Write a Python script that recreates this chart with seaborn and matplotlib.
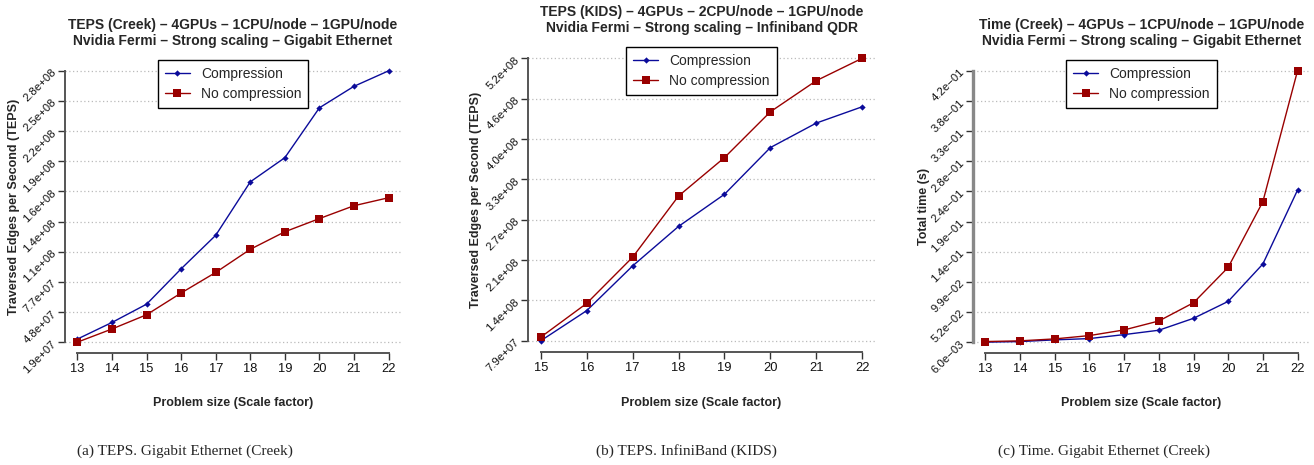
import numpy as np
import pandas as pd
import matplotlib
matplotlib.use("Agg")
import matplotlib.pyplot as plt
from matplotlib.ticker import FuncFormatter
import seaborn as sns

# ---------------- data ----------------
scale_a = [13, 14, 15, 16, 17, 18, 19, 20, 21, 22]
teps_creek_comp = [2.2e7, 3.8e7, 5.56e7, 8.97e7, 1.22e8, 1.735e8, 1.968e8, 2.449e8, 2.656e8, 2.805e8]
teps_creek_nocomp = [1.9e7, 3.17e7, 4.54e7, 6.64e7, 8.62e7, 1.085e8, 1.254e8, 1.381e8, 1.505e8, 1.582e8]

scale_b = [15, 16, 17, 18, 19, 20, 21, 22]
teps_kids_comp = [7.9e7, 1.264e8, 1.969e8, 2.591e8, 3.097e8, 3.833e8, 4.219e8, 4.476e8]
teps_kids_nocomp = [8.47e7, 1.379e8, 2.106e8, 3.07e8, 3.675e8, 4.397e8, 4.887e8, 5.24e8]

scale_c = [13, 14, 15, 16, 17, 18, 19, 20, 21, 22]
time_creek_comp = [0.006, 0.0069, 0.0095, 0.0115, 0.0176, 0.0243, 0.0426, 0.0686, 0.126, 0.2395]
time_creek_nocomp = [0.0069, 0.008, 0.011, 0.0161, 0.0248, 0.0385, 0.0665, 0.1209, 0.2217, 0.4227]

series_names = ["Compression", "No compression"]

titles = [
    "TEPS (Creek) \u2013 4GPUs \u2013 1CPU/node \u2013 1GPU/node\nNvidia Fermi \u2013 Strong scaling \u2013 Gigabit Ethernet",
    "TEPS (KIDS) \u2013 4GPUs \u2013 2CPU/node \u2013 1GPU/node\nNvidia Fermi \u2013 Strong scaling \u2013 Infiniband QDR",
    "Time (Creek) \u2013 4GPUs \u2013 1CPU/node \u2013 1GPU/node\nNvidia Fermi \u2013 Strong scaling \u2013 Gigabit Ethernet",
]
ylabels = ["Traversed Edges per Second (TEPS)", "Traversed Edges per Second (TEPS)", "Total time (s)"]
xlabel = "Problem size (Scale factor)"
captions = [
    "(a) TEPS. Gigabit Ethernet (Creek)",
    "(b) TEPS. InfiniBand (KIDS)",
    "(c) Time. Gigabit Ethernet (Creek)",
]

panels = [
    (scale_a, teps_creek_comp, teps_creek_nocomp),
    (scale_b, teps_kids_comp, teps_kids_nocomp),
    (scale_c, time_creek_comp, time_creek_nocomp),
]

# ---------------- style ----------------
sns.set_theme(style="white")
plt.rcParams["font.family"] = ["Liberation Sans", "DejaVu Sans"]
plt.rcParams["axes.unicode_minus"] = True

W, H = 1314, 465
fig = plt.figure(figsize=(W / 100, H / 100), dpi=100)
fig.patch.set_facecolor("white")

# axes boxes in pixels: left, right, top, bottom
boxes = [(65, 401, 60, 353), (528, 875, 47, 352), (973, 1310, 60, 353)]
caption_x = [185, 686, 1104]
ylab_px = [20, 482, 930]

blue = "#0b0b9a"
red = "#990000"
axis_col = "#555555"

fmt = FuncFormatter(lambda v, p: f"{v:.1e}".replace("-", "\u2212"))

for i, ((xs, comp, nocomp), (l, r, t, b)) in enumerate(zip(panels, boxes)):
    ax = fig.add_axes([l / W, 1 - b / H, (r - l) / W, (b - t) / H])
    df = pd.DataFrame({
        "scale": list(xs) * 2,
        "value": list(comp) + list(nocomp),
        "series": [series_names[0]] * len(xs) + [series_names[1]] * len(xs),
    })
    sns.lineplot(data=df[df.series == series_names[0]], x="scale", y="value",
                 ax=ax, color=blue, marker="D", markersize=3.2, markeredgewidth=0,
                 linewidth=1.0, label=series_names[0])
    sns.lineplot(data=df[df.series == series_names[1]], x="scale", y="value",
                 ax=ax, color=red, marker="s", markersize=5.5, markeredgewidth=0,
                 linewidth=1.0, label=series_names[1])
    ax.margins(x=0.04, y=0.04)

    allv = np.array(list(comp) + list(nocomp))
    ax.set_yticks(np.linspace(allv.min(), allv.max(), len(xs)))
    ax.set_xticks(xs)
    ax.yaxis.set_major_formatter(fmt)
    ax.set_xticklabels([str(v) for v in xs])

    ax.grid(axis="y", linestyle=(0, (1, 2)), color="#bbbbbb", linewidth=0.9)
    ax.grid(axis="x", visible=False)
    ax.set_axisbelow(True)
    sns.despine(ax=ax, trim=True)
    for s in ["left", "bottom"]:
        ax.spines[s].set_color(axis_col)
        ax.spines[s].set_linewidth(1.4)
    if i == 2:
        ax.spines["left"].set_color("#888888")
        ax.spines["left"].set_linewidth(2.4)

    ax.tick_params(axis="both", direction="out", length=5, width=1.0,
                   color="#333333", labelcolor="#111111",
                   left=True, bottom=True)
    ax.tick_params(axis="x", labelsize=9.3, pad=2)
    ax.tick_params(axis="y", labelsize=8.2, pad=2.5)
    for lab in ax.get_yticklabels():
        lab.set_rotation(45)
        lab.set_ha("right")
        lab.set_va("center")
        lab.set_rotation_mode("anchor")

    ax.set_title(titles[i], fontsize=10, fontweight="bold", pad=11, linespacing=1.15)
    ax.set_xlabel(xlabel, fontsize=9, fontweight="bold")
    ax.set_ylabel(ylabels[i], fontsize=9, fontweight="bold")
    ax.xaxis.set_label_coords(0.5, -(397 - b) / (b - t))
    ax.yaxis.set_label_coords((ylab_px[i] - l) / (r - l), 0.5)

    leg = ax.legend(loc="upper center", bbox_to_anchor=(0.5, 1.0), borderaxespad=0,
                    frameon=True, fancybox=False, edgecolor="black", framealpha=1,
                    fontsize=10, handlelength=1.8, handletextpad=0.8,
                    borderpad=0.5, labelspacing=0.45)
    leg.get_frame().set_linewidth(1.0)

    fig.text(caption_x[i] / W, 1 - 451 / H, captions[i], ha="center", va="center",
             family=["Liberation Serif", "DejaVu Serif"], fontsize=11)

fig.savefig("out.png", dpi=100, facecolor="white")
